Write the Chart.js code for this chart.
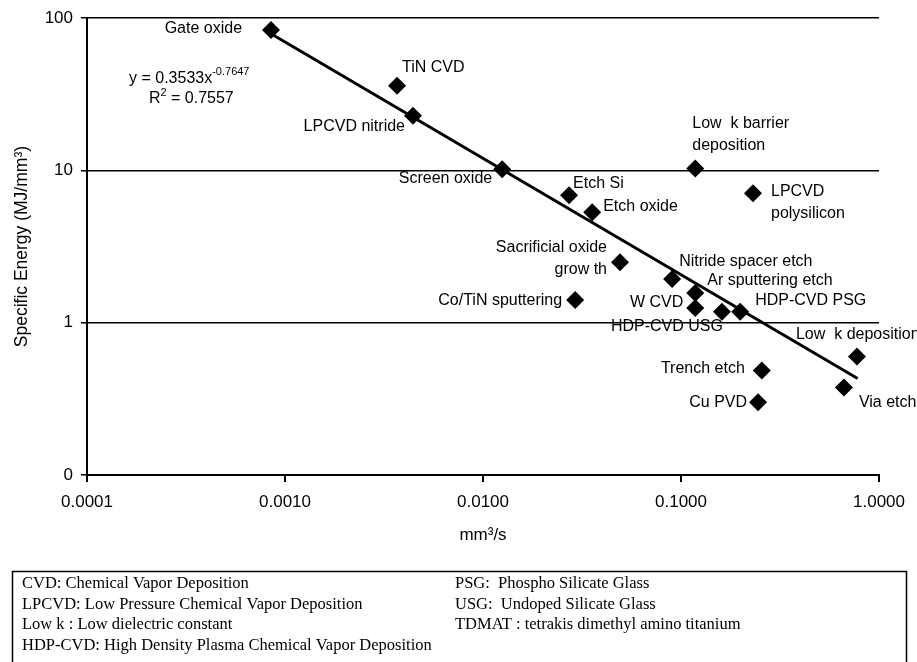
<!DOCTYPE html>
<html>
<head>
<meta charset="utf-8">
<script src="https://cdn.jsdelivr.net/npm/chart.js@4.4.0/dist/chart.umd.min.js"></script>
<style>
  body { margin: 0; background: #fff; }
  #wrap { width: 917px; height: 662px; position: relative; }
</style>
</head>
<body>
<div id="wrap"><canvas id="energy-chart" width="917" height="662"></canvas></div>
<script>
// Process steps and values
const processNames = ['Gate oxide', 'TiN CVD', 'LPCVD nitride', 'Screen oxide', 'Etch Si', 'Etch oxide',
    'Low  k barrier\ndeposition', 'LPCVD\npolysilicon', 'Sacrificial oxide\ngrow th', 'Nitride spacer etch',
    'Ar sputtering etch', 'W CVD', 'HDP-CVD USG', 'HDP-CVD PSG', 'Co/TiN sputtering', 'Low  k deposition',
    'Trench etch', 'Cu PVD', 'Via etch'];
const volumeRate = [0.00085, 0.00368, 0.00443, 0.0125, 0.0272, 0.0356, 0.118, 0.231, 0.0492, 0.0902,
    0.118, 0.118, 0.161, 0.199, 0.0292, 0.774, 0.256, 0.245, 0.665];   // mm3/s
const specificEnergy = [83.5, 36, 22.9, 10.2, 6.87, 5.31, 10.3, 7.08, 2.50, 1.94,
    1.57, 1.25, 1.18, 1.18, 1.41, 0.60, 0.486, 0.300, 0.376];          // MJ/mm3

// Power-law trend line end points
const trendX = [0.00085, 0.78];
const trendY = [79, 0.43];

const xTicks = [0.0001, 0.001, 0.01, 0.1, 1];
const yTicks = [0.1, 1, 10, 100];

const abbreviationsLeft = ['CVD: Chemical Vapor Deposition', 'LPCVD: Low Pressure Chemical Vapor Deposition',
    'Low k : Low dielectric constant', 'HDP-CVD: High Density Plasma Chemical Vapor Deposition'];
const abbreviationsRight = ['PSG:  Phospho Silicate Glass', 'USG:  Undoped Silicate Glass',
    'TDMAT : tetrakis dimethyl amino titanium'];

// label placement relative to each diamond: [dx, dy, align]
const labelPlacement = [
    [-29, -2, 'right'], [5, -18, 'left'], [-8, 11, 'right'], [-10, 9, 'right'], [4, -12, 'left'],
    [11, -6, 'left'], [-3, -45, 'left'], [18, -2, 'left'], [-13, -15, 'right'], [7, -17, 'left'],
    [12, -12, 'left'], [-12, -5, 'right'], [1, 15, 'right'], [15, -11, 'left'], [-13, 1, 'right'],
    [-61, -22, 'left'], [-17, -2, 'right'], [-11, 0, 'right'], [15, 15, 'left']
];

const SANS = '"Liberation Sans", Arial, sans-serif';
const SERIF = '"Liberation Serif", "Times New Roman", serif';

const annotations = {
    id: 'annotations',
    afterDatasetsDraw(chart) {
        const ctx = chart.ctx;
        const xs = chart.scales.x, ys = chart.scales.y;
        ctx.save();
        ctx.fillStyle = '#000';
        ctx.font = '16px ' + SANS;
        ctx.textBaseline = 'middle';

        // point labels
        processNames.forEach((name, i) => {
            const px = xs.getPixelForValue(volumeRate[i]);
            const py = ys.getPixelForValue(specificEnergy[i]);
            const [dx, dy, align] = labelPlacement[i];
            ctx.textAlign = align;
            name.split('\n').forEach((line, j) => {
                ctx.fillText(line, px + dx, py + dy + j * 22);
            });
        });

        // trend equation
        ctx.textAlign = 'left';
        const base = 'y = 0.3533x';
        ctx.fillText(base, 129, 79);
        const w = ctx.measureText(base).width;
        ctx.font = '11px ' + SANS;
        ctx.fillText('-0.7647', 129 + w, 72);
        ctx.font = '16px ' + SANS;
        ctx.fillText('R', 149, 99);
        const rw = ctx.measureText('R').width;
        ctx.font = '11px ' + SANS;
        ctx.fillText('2', 149 + rw, 93);
        ctx.font = '16px ' + SANS;
        ctx.fillText(' = 0.7557', 149 + rw + 6, 99);

        // abbreviation box
        ctx.strokeStyle = '#000';
        ctx.lineWidth = 1.5;
        ctx.strokeRect(12.5, 571.5, 894, 120);
        ctx.font = '16.5px ' + SERIF;
        abbreviationsLeft.forEach((t, i) => ctx.fillText(t, 22, 584 + i * 20.5));
        abbreviationsRight.forEach((t, i) => ctx.fillText(t, 455, 584 + i * 20.5));
        ctx.restore();
    }
};

const ctxEnergy = document.getElementById('energy-chart').getContext('2d');
const energyChart = new Chart(ctxEnergy, {
    type: 'scatter',
    data: {
        datasets: [{
            label: 'Process steps',
            data: volumeRate.map((v, i) => ({ x: v, y: specificEnergy[i] })),
            pointStyle: 'rectRot',
            pointRadius: 9,
            pointHoverRadius: 9,
            backgroundColor: '#000',
            borderColor: '#000',
            borderWidth: 0
        }, {
            label: 'Power trend',
            data: trendX.map((v, i) => ({ x: v, y: trendY[i] })),
            showLine: true,
            borderColor: '#000',
            borderWidth: 3,
            pointRadius: 0
        }]
    },
    options: {
        responsive: false,
        animation: false,
        layout: { padding: { left: 0, right: 38, top: 17, bottom: 112 } },
        plugins: {
            legend: { display: false },
            tooltip: { enabled: false }
        },
        scales: {
            x: {
                type: 'logarithmic',
                min: 0.0001,
                max: 1,
                afterBuildTicks: scale => { scale.ticks = xTicks.map(v => ({ value: v })); },
                afterFit: scale => { scale.height = 75; },
                ticks: {
                    color: '#000',
                    font: { family: SANS, size: 17 },
                    padding: 10,
                    maxRotation: 0,
                    callback: value => Number(value).toFixed(4)
                },
                grid: { drawOnChartArea: false, color: '#000', tickLength: 7, lineWidth: 2 },
                border: { color: '#000', width: 2 },
                title: {
                    display: true,
                    text: 'mm³/s',
                    color: '#000',
                    font: { family: SANS, size: 17 },
                    padding: { top: 4, bottom: 4 }
                }
            },
            y: {
                type: 'logarithmic',
                min: 0.1,
                max: 100,
                afterBuildTicks: scale => { scale.ticks = yTicks.map(v => ({ value: v })); },
                afterFit: scale => { scale.width = 87; },
                ticks: {
                    color: '#000',
                    font: { family: SANS, size: 17 },
                    padding: 8,
                    callback: value => value === 0.1 ? '0' : String(value)
                },
                grid: { color: '#000', lineWidth: 1.5, tickLength: 6 },
                border: { color: '#000', width: 2 },
                title: {
                    display: true,
                    text: 'Specific Energy (MJ/mm³)',
                    color: '#000',
                    font: { family: SANS, size: 17.5 },
                    padding: { top: 12, bottom: 0 }
                }
            }
        }
    },
    plugins: [annotations]
});
</script>
</body>
</html>
